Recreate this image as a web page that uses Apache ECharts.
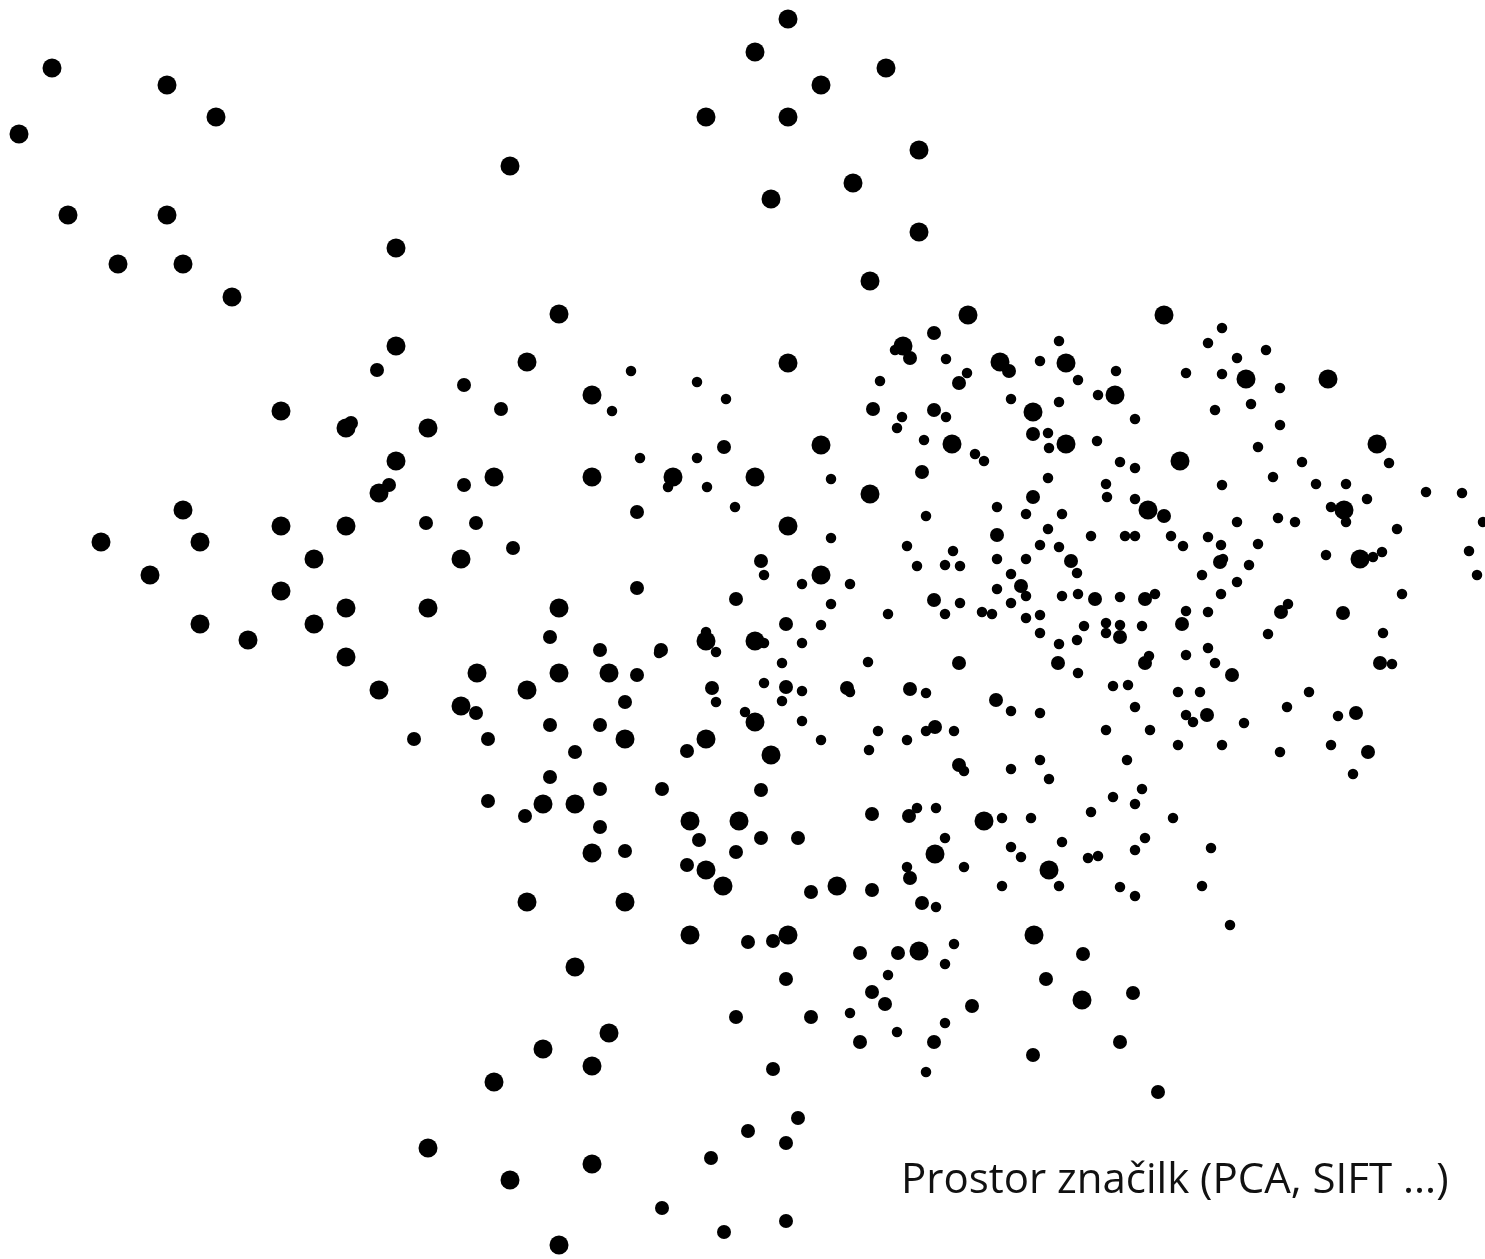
<!DOCTYPE html>
<html><head><meta charset="utf-8">
<style>html,body{margin:0;padding:0;background:#fff}#c{width:1485px;height:1259px}</style>
<script src="https://cdn.jsdelivr.net/npm/echarts@6/dist/echarts.min.js"></script>
</head><body><div id="c"></div>
<script>
const largePoints = [
[788,19],[755,52],[821,85],[886,68],[706,117],[788,117],[919,150],[853,183],[771,199],[919,232],[870,281],
[52,68],[167,85],[216,117],[19,134],[510,166],[68,215],[167,215],[396,248],[118,264],[183,264],[232,297],
[559,314],[396,346],[527,362],[592,395],[281,411],[346,428],[428,428],[396,461],[494,477],[592,477],[379,493],
[183,510],[281,526],[346,526],[101,542],[200,542],[461,559],[314,559],[150,575],[281,591],[346,608],[428,608],
[559,608],[200,624],[314,624],[248,640],[346,657],[477,673],[559,673],[609,673],[379,690],[527,690],[461,706],
[543,804],[575,804],[592,853],[527,902],[625,902],[690,935],[575,967],[625,739],
[968,315],[1164,315],[903,346],[1000,362],[1066,363],[1115,395],[1033,412],[952,444],[1066,444],[1180,461],[870,494],[1148,510],
[1246,379],[1328,379],[1377,444],[1344,510],[1360,559],
[788,363],[821,445],[673,477],[755,477],[788,526],[821,575],[706,641],[755,641],[755,722],[706,739],[771,755],
[690,821],[739,821],[706,870],[723,886],[837,886],[984,821],[935,854],[1049,870],
[788,935],[919,951],[1034,935],[1082,1000],
[559,1245],[592,1164],[510,1180],[428,1148],[494,1082],[592,1066],[543,1049],[609,1033]
];
const mediumPoints = [
[351,423],[377,370],[464,385],[501,409],[464,485],[389,485],[426,523],[476,523],[513,548],[550,637],[600,650],[476,713],
[625,702],[414,739],[488,739],[550,725],[600,725],[575,752],[550,777],[600,789],[488,801],[525,816],[600,827],[637,675],
[625,851],[661,650],[724,447],[637,512],[761,561],[637,588],[736,599],[786,624],[712,688],[786,687],[847,688],
[687,751],[662,789],[761,790],[699,840],[761,838],[798,838],[736,852],[687,865],[811,892],
[934,333],[910,358],[959,383],[1009,371],[873,409],[934,410],[1033,434],[922,472],[1033,497],[1164,516],[997,535],[1071,561],
[1021,586],[934,600],[1095,599],[1145,599],[1120,637],[1182,624],[959,663],[1058,663],[1145,663],[910,689],[1220,562],
[1281,612],[1343,613],[1232,675],[1380,663],[1207,715],[1356,713],[1368,752],
[996,700],[935,727],[959,765],[872,814],[909,816],[872,890],[910,878],[922,903],
[748,942],[773,941],[786,979],[736,1017],[811,1017],[860,953],[898,953],[872,992],[885,1004],[860,1042],[934,1042],[972,1006],
[1083,954],[1046,979],[1133,993],[1120,1042],[1033,1055],[1158,1092],
[773,1069],[798,1118],[748,1131],[786,1143],[711,1158],[662,1208],[724,1232],[786,1221]
];
const smallPoints = [
[612,411],[631,371],[697,382],[726,399],[640,458],[697,458],[668,487],[707,487],[831,479],[735,507],[831,538],[764,575],
[802,584],[850,584],[831,604],[821,625],[659,653],[706,632],[716,652],[764,643],[802,643],[782,663],[764,683],[716,702],
[802,691],[782,701],[850,692],[745,712],[802,721],[821,740],
[895,350],[946,359],[967,373],[880,381],[1040,361],[1059,341],[1078,380],[1116,371],[1098,395],[1011,399],[1059,402],[1135,419],
[902,417],[897,428],[946,417],[924,440],[975,454],[984,461],[1048,433],[1049,448],[1097,441],[1120,462],[1135,468],[1048,478],
[1106,484],[1107,497],[1135,499],[997,507],[926,516],[1026,514],[1062,514],[1048,529],[1091,536],[1125,536],[1135,536],[1171,536],
[1183,546],[907,546],[953,551],[1040,545],[1059,547],[917,566],[945,565],[960,566],[997,559],[1026,559],[1077,573],[1011,574],
[997,589],[1026,596],[1011,603],[960,603],[945,614],[888,614],[982,612],[992,614],[1062,596],[1078,594],[1120,597],[1155,594],
[1026,618],[1040,615],[1040,633],[1084,626],[1106,623],[1106,633],[1120,625],[1142,626],[1059,644],[1077,640],[868,662],[1149,656],
[1078,673],[926,693],[1113,686],[1128,685],
[1222,328],[1208,343],[1266,350],[1237,358],[1186,373],[1222,374],[1280,388],[1251,404],[1215,410],[1280,425],[1258,447],[1302,462],
[1389,463],[1273,477],[1222,485],[1316,484],[1346,484],[1367,499],[1426,492],[1462,493],[1331,507],
[1346,522],[1237,522],[1278,518],[1295,522],[1397,529],[1483,522],[1208,537],[1221,545],[1258,544],[1223,559],[1249,565],[1202,575],
[1237,582],[1221,594],[1326,555],[1373,557],[1382,552],[1469,551],[1477,575],[1402,594],[1186,611],[1208,612],[1288,604],[1268,634],
[1383,633],[1208,648],[1186,655],[1215,663],[1392,664],[1178,692],[1200,692],[1309,692],[1287,707],[1186,715],[1193,722],[1244,723],
[1338,716],[1178,745],[1222,745],[1280,752],[1331,745],[1353,774],
[1011,711],[1040,713],[1135,707],[1106,730],[1150,730],[878,731],[907,740],[926,731],[954,731],[869,750],[964,771],[1011,769],[1040,760],
[1049,779],[1127,760],[1142,789],[1113,797],[1135,804],[1091,812],[1173,818],[917,808],[936,808],[1002,818],[1031,818],[1062,842],
[1145,838],[1135,850],[945,838],[1011,847],[1021,857],[1088,858],[1098,856],[907,867],[964,867],[1002,886],[1059,886],[1120,887],
[1135,896],[936,907],[1202,886],[1211,848],[1230,925],
[954,944],[945,964],[888,975],[850,1013],[897,1032],[945,1023],[926,1072]
];
const caption = 'Prostor značilk (PCA, SIFT ...)';

const chart = echarts.init(document.getElementById('c'), null, {renderer:'canvas'});
const dots = (data, size) => ({type:'scatter', data, symbol:'circle', symbolSize:size,
  itemStyle:{color:'#000', opacity:1}, silent:true, animation:false});
chart.setOption({
  animation:false,
  backgroundColor:'#fff',
  grid:{left:0,right:0,top:0,bottom:0},
  xAxis:{type:'value',min:0,max:1485,show:false},
  yAxis:{type:'value',min:0,max:1259,inverse:true,show:false},
  title:{text:caption,left:901,top:1160,padding:0,
    textStyle:{fontFamily:'Open Sans',fontWeight:'normal',fontSize:42,color:'#111'}},
  series:[dots(largePoints,19),dots(mediumPoints,14),dots(smallPoints,10.5)]
});
</script></body></html>
